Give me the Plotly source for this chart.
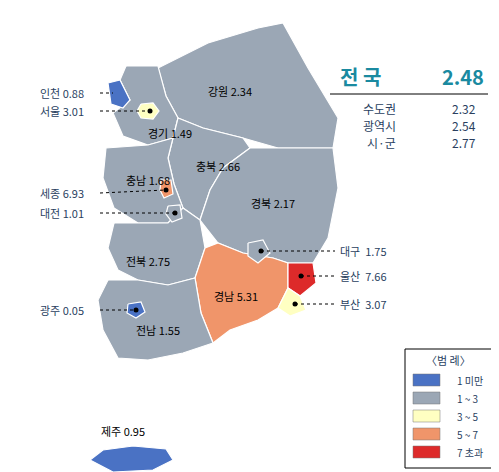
import plotly.graph_objects as go

regions = ["강원","경기","충북","충남","경북","전북","경남","전남","울산","부산","서울","인천","세종","대전","대구","광주","제주"]
values = [2.34,1.49,2.66,1.68,2.17,2.75,5.31,1.55,7.66,3.07,3.01,0.88,6.93,1.01,1.75,0.05,0.95]
national = 2.48
sub_names = ["수도권","광역시","시·군"]
sub_values = [2.32,2.54,2.77]
legend_labels = ["1 미만","1 ~ 3","3 ~ 5","5 ~ 7","7 초과"]
legend_colors = ["#4a72c4","#9ba7b5","#ffffc2","#f0956a","#dd2a2a"]
bins = [1,3,5,7]

# approximate region outlines (map coordinates)
outlines = {
 "강원":[(150,60),(200,35),(250,20),(275,15),(300,60),(330,110),(325,140),(270,140),(235,130),(195,120),(170,110),(158,88)],
 "경기":[(118,58),(150,58),(158,88),(170,110),(165,130),(140,137),(115,128),(105,105),(122,92),(112,72)],
 "충북":[(170,110),(195,120),(235,130),(242,140),(215,160),(202,182),(192,212),(175,200),(166,176),(160,150),(165,130)],
 "충남":[(98,140),(140,137),(165,130),(160,150),(166,176),(175,200),(160,215),(130,215),(106,200),(95,170)],
 "경북":[(242,140),(270,140),(325,140),(330,180),(320,230),(305,255),(280,255),(265,250),(235,245),(210,235),(192,212),(202,182),(215,160)],
 "전북":[(106,215),(130,215),(160,215),(175,200),(192,212),(197,240),(187,270),(160,277),(130,272),(110,262),(100,240)],
 "경남":[(197,240),(210,235),(235,245),(265,250),(280,255),(280,280),(270,300),(250,312),(222,322),(205,335),(193,305),(187,270)],
 "전남":[(100,272),(130,272),(160,277),(187,270),(193,305),(205,335),(175,345),(140,352),(110,350),(95,322),(90,292)],
 "울산":[(280,255),(305,255),(308,275),(292,288),(280,280)],
 "부산":[(270,300),(280,280),(292,288),(298,302),(282,308)],
 "서울":[(133,96),(145,95),(151,103),(145,111),(133,110),(129,103)],
 "인천":[(100,75),(112,72),(122,92),(115,100),(103,96)],
 "세종":[(153,172),(163,172),(165,186),(156,190),(152,182)],
 "대전":[(160,198),(172,197),(174,210),(164,214),(158,206)],
 "대구":[(240,235),(255,232),(262,245),(250,255),(240,248)],
 "광주":[(120,296),(133,294),(137,304),(128,310),(119,305)],
 "제주":[(82,452),(95,442),(125,438),(158,441),(165,452),(145,462),(105,464)],
}
markers = {"서울":(142,103),"세종":(158,182),"대전":(167,205),"대구":(253,243),"울산":(293,268),"부산":(287,296),"광주":(128,302)}
labels = {"강원":(222,83),"경기":(162,125),"충북":(210,158),"충남":(140,172),"경북":(265,195),"전북":(140,253),"경남":(228,288),"전남":(150,322),"제주":(115,423)}
side = {"인천":(30,85,"left"),"서울":(30,103,"left"),"세종":(30,185,"left"),"대전":(30,205,"left"),"광주":(30,302,"left"),
        "대구":(330,243,"right"),"울산":(330,268,"right"),"부산":(330,296,"right")}

def color(v):
    i = sum(v >= b for b in bins)
    return legend_colors[i]

fig = go.Figure()
for n, v in zip(regions, values):
    pts = outlines[n] + [outlines[n][0]]
    fig.add_trace(go.Scatter(x=[p[0] for p in pts], y=[p[1] for p in pts], fill="toself", fillcolor=color(v),
                             mode="lines", line=dict(color="white", width=1.2), hoverinfo="skip", showlegend=False))
mx = [markers[n][0] for n in markers]; my = [markers[n][1] for n in markers]
fig.add_trace(go.Scatter(x=mx, y=my, mode="markers", marker=dict(color="black", size=5), showlegend=False))

F = "Noto Sans CJK KR"
ann = []
val = dict(zip(regions, values))
for n, (x, y) in labels.items():
    ann.append(dict(x=x, y=y, text=f"{n} {val[n]:.2f}", showarrow=False, font=dict(family=F, size=11, color="black")))
shapes = []
for n, (x, y, s) in side.items():
    px, py = markers.get(n, outlines[n][1])
    if n == "인천":
        px, py = 105, 85
    if s == "left":
        ann.append(dict(x=x, y=y, text=f"{n} {val[n]:.2f}", showarrow=False, xanchor="left", font=dict(family=F, size=11)))
        shapes.append(dict(type="line", x0=x+62, y0=y, x1=px, y1=py, line=dict(color="black", width=1, dash="dot")))
    else:
        ann.append(dict(x=x, y=y, text=f"{n}  {val[n]:.2f}", showarrow=False, xanchor="left", font=dict(family=F, size=11)))
        shapes.append(dict(type="line", x0=px, y0=py, x1=x-3, y1=y, line=dict(color="black", width=1, dash="dot")))

ann.append(dict(x=330, y=68, text="<b>전 국</b>", showarrow=False, xanchor="left", font=dict(family=F, size=20, color="#1a8aa0")))
ann.append(dict(x=478, y=68, text="<b>2.48</b>", showarrow=False, xanchor="right", font=dict(family=F, size=20, color="#1a8aa0")))
shapes.append(dict(type="line", x0=322, x1=480, y0=86, y1=86, line=dict(color="black", width=1)))
for i, (n, v) in enumerate(zip(sub_names, sub_values)):
    y = 100 + i * 17
    ann.append(dict(x=390, y=y, text=n, showarrow=False, xanchor="right", font=dict(family=F, size=12)))
    ann.append(dict(x=470, y=y, text=f"{v:.2f}", showarrow=False, xanchor="right", font=dict(family=F, size=12)))

shapes.append(dict(type="rect", x0=397, x1=484, y0=341, y1=460, line=dict(color="black", width=1)))
ann.append(dict(x=440, y=352, text="〈범 례〉", showarrow=False, font=dict(family=F, size=11)))
for i, (l, c) in enumerate(zip(legend_labels, legend_colors)):
    y = 372 + i * 18
    shapes.append(dict(type="rect", x0=405, x1=432, y0=y-6, y1=y+6, fillcolor=c, line=dict(color="#777", width=0.5)))
    ann.append(dict(x=447, y=y, text=l, showarrow=False, xanchor="left", font=dict(family=F, size=10)))

fig.update_layout(width=499, height=472, margin=dict(l=0, r=0, t=0, b=0), plot_bgcolor="white", paper_bgcolor="white",
                  xaxis=dict(range=[0, 499], visible=False, fixedrange=True),
                  yaxis=dict(range=[472, 0], visible=False, fixedrange=True),
                  annotations=ann, shapes=shapes)
fig.write_html("out.html")
